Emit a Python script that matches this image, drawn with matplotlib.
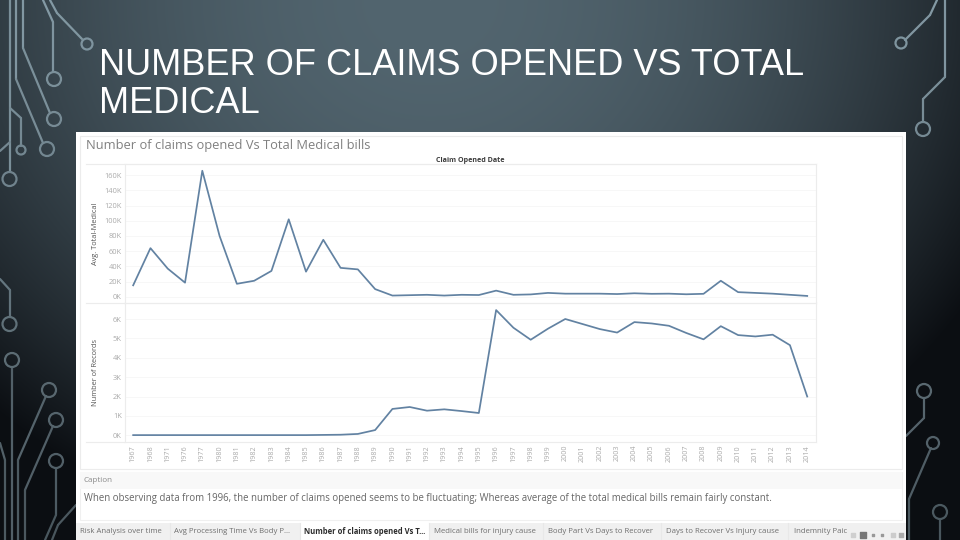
import numpy as np
import matplotlib
matplotlib.use("Agg")
import matplotlib.pyplot as plt
from matplotlib.patches import Rectangle, Circle
from matplotlib.ticker import FixedLocator, FuncFormatter

plt.rcParams["font.family"] = ["Open Sans", "DejaVu Sans"]

# --- data ---
years = [1967, 1968, 1971, 1976, 1977, 1980, 1981, 1982, 1983, 1984, 1985, 1986, 1987, 1988,
         1989, 1990, 1991, 1992, 1993, 1994, 1995, 1996, 1997, 1998, 1999, 2000, 2001, 2002,
         2003, 2004, 2005, 2006, 2007, 2008, 2009, 2010, 2011, 2012, 2013, 2014]
avg_medical = [15, 64, 37, 18.5, 166, 80, 17, 21, 34, 102, 33, 75, 38, 36,
               10, 1.5, 2, 2.5, 1.5, 2.5, 2.2, 8, 2.5, 3, 5, 4, 4, 4,
               3.5, 4.5, 3.8, 4, 3.2, 3.8, 21, 6, 5, 4, 2.5, 1]
num_records = [0.01, 0.01, 0.01, 0.01, 0.01, 0.01, 0.01, 0.01, 0.01, 0.01, 0.01, 0.02, 0.03, 0.07,
               0.27, 1.36, 1.46, 1.27, 1.34, 1.25, 1.15, 6.46, 5.55, 4.93, 5.5, 6.0, 5.74, 5.48,
               5.3, 5.84, 5.77, 5.65, 5.28, 4.95, 5.63, 5.17, 5.1, 5.19, 4.65, 2.0]
medical_ticks = [0, 20, 40, 60, 80, 100, 120, 140, 160]
record_ticks = [0, 1, 2, 3, 4, 5, 6]
tab_names = ["Risk Analysis over time", "Avg Processing Time Vs Body P...", "Number of claims opened Vs T...",
             "Medical bills for injury cause", "Body Part Vs Days to Recover",
             "Days to Recover Vs Injury cause", "Indemnity Paic"]
tab_x = [80, 174, 304, 434, 548, 666, 794]
tab_edges = [170, 300, 429, 543, 661, 788]

W, H = 960, 540
fig = plt.figure(figsize=(9.6, 5.4), dpi=100)


def pane(left, top, right, bottom):
    return fig.add_axes([left / W, 1 - bottom / H, (right - left) / W, (bottom - top) / H])


# --- fondo de la diapositiva ---
bg = fig.add_axes([0, 0, 1, 1])
bg.axis("off")

yy, xx = np.mgrid[0:H, 0:W]
dist = np.sqrt(((xx - 430) / 640) ** 2 + (yy / 560) ** 2)
t = np.clip(dist, 0, 1)[..., None] ** 2.0
inner = np.array([0x52, 0x65, 0x6f]) / 255
outer = np.array([0x0b, 0x0e, 0x12]) / 255
bg.imshow(inner * (1 - t) + outer * t, extent=[0, W, H, 0], aspect="auto", zorder=0)
bg.set_xlim(0, W)
bg.set_ylim(H, 0)

# --- pistas del circuito (decoracion) ---
traces = [
    [(43, 0), (53, 22), (53, 72)],
    [(50, 0), (57, 13), (82, 39)],
    [(23, 0), (23, 48), (50, 113)],
    [(16, 0), (16, 79), (43, 143)],
    [(10, 0), (10, 172)],
    [(10, 108), (21, 118), (21, 146)],
    [(0, 151), (10, 142)],
    [(0, 279), (10, 290), (10, 317)],
    [(12, 367), (12, 540)],
    [(46, 396), (18, 460), (18, 540)],
    [(53, 426), (25, 490), (25, 540)],
    [(56, 468), (56, 515), (45, 540)],
    [(76, 505), (58, 525), (52, 540)],
    [(0, 443), (5, 460), (5, 540)],
    [(945, 0), (945, 77), (923, 99), (923, 122)],
    [(937, 0), (930, 15), (905, 40)],
    [(924, 398), (924, 418), (906, 436)],
    [(931, 448), (909, 499), (909, 540)],
    [(940, 519), (940, 540)],
]
rings = [(87, 44, 5.5), (54, 79, 7), (54, 119, 7), (47, 149, 7), (9.5, 179, 7), (21, 150, 4.5),
         (9.5, 324, 7), (12, 360, 7), (49, 390, 7), (56, 420, 7), (56, 461, 7),
         (901, 43, 5.5), (923, 129, 7), (924, 391, 7), (933, 443, 6), (940, 512, 7)]


def trace_color(y):
    f = min(y / 540, 1)
    top = np.array([0x84, 0x9a, 0xa5]) / 255
    bottom = np.array([0x48, 0x55, 0x5c]) / 255
    return tuple((1 - f) * top + f * bottom)


for tr in traces:
    for (x0, y0), (x1, y1) in zip(tr[:-1], tr[1:]):
        bg.plot([x0, x1], [y0, y1], color=trace_color((y0 + y1) / 2), lw=1.6,
                solid_capstyle="round", zorder=1)
for cx, cy, r in rings:
    bg.add_patch(Circle((cx, cy), r, fill=False, ec=trace_color(cy), lw=1.6, zorder=1))

bg.text(99, 65.5, "NUMBER OF CLAIMS OPENED VS TOTAL", color="white", fontsize=26,
        family="Liberation Sans", va="center", ha="left")
bg.text(99, 103.5, "MEDICAL", color="white", fontsize=26,
        family="Liberation Sans", va="center", ha="left")

# --- panel blanco del dashboard ---
bg.add_patch(Rectangle((76, 132), 830, 408, fc="white", ec="none", zorder=2))
bg.add_patch(Rectangle((79.5, 136), 822.5, 333, fc="white", ec="#ececec", lw=0.8, zorder=2))
bg.add_patch(Rectangle((79.5, 472), 822.5, 48, fc="white", ec="#f0f0f0", lw=0.8, zorder=2))
bg.add_patch(Rectangle((80, 472), 822, 17, fc="#f8f8f8", ec="none", zorder=2))
bg.add_patch(Rectangle((76, 523), 830, 17, fc="#f0f0f0", ec="none", zorder=2))
bg.add_patch(Rectangle((301, 523), 128, 17, fc="white", ec="none", zorder=2))
for x in tab_edges:
    bg.plot([x, x], [523, 540], color="#e8e8e8", lw=0.8, zorder=3)

bg.text(85.5, 146, "Number of claims opened Vs Total Medical bills", color="#808080",
        fontsize=9.25, va="center", zorder=4)
bg.plot([86, 816], [164.3, 164.3], color="#ececec", lw=0.8, zorder=3)
bg.text(470, 160.5, "Claim Opened Date", color="#3a3a3a", fontsize=5.1, fontweight="bold",
        ha="center", va="center", zorder=4)
bg.plot([86, 125], [303.3, 303.3], color="#ececec", lw=0.8, zorder=3)
bg.plot([86, 125], [442.3, 442.3], color="#ececec", lw=0.8, zorder=3)

bg.text(84, 481, "Caption", color="#8a8a8a", fontsize=5.8, va="center", zorder=4)
bg.text(84, 498.5, "When observing data from 1996, the number of claims opened seems to be fluctuating; "
        "Whereas average of the total medical bills remain fairly constant.",
        color="#666666", fontsize=6.9, va="center", zorder=4)

for i, (name, x) in enumerate(zip(tab_names, tab_x)):
    active = i == 2
    bg.text(x, 531.5, name, color="#2c2c2c" if active else "#6f6f6f", fontsize=5.5 if active else 5.6,
            fontweight="bold" if active else "normal", va="center", zorder=4)
bg.scatter([853, 863, 873, 882, 893, 901], [535, 535, 535, 535, 535, 535], s=[9, 14, 2, 2, 9, 9],
           marker="s", color=["#cfcfcf", "#777777", "#999999", "#999999", "#cccccc", "#aaaaaa"], zorder=5)

# --- paneles del grafico ---
x_pos = np.arange(len(years))
x_lim = (-0.49, len(years) - 1 + 0.49)
line_color = "#6282a2"

ax_top = pane(124.7, 164.3, 815.7, 303.2)
ax_bot = pane(124.7, 303.2, 815.7, 442.2)

ax_top.plot(x_pos, avg_medical, color=line_color, lw=1.25)
ax_bot.plot(x_pos, num_records, color=line_color, lw=1.25)

# 0K y 160K caen en y=296.7 y y=175.3; 0K y 6K en y=435.3 y y=319
ax_top.set_ylim(-6.5 / 121.4 * 160, (296.7 - 164.3) / 121.4 * 160)
ax_bot.set_ylim(-6.9 / 116.3 * 6, (435.3 - 303.2) / 116.3 * 6)

for ax, ticks, label in [(ax_top, medical_ticks, "Avg. Total-Medical"), (ax_bot, record_ticks, "Number of Records")]:
    ax.set_xlim(*x_lim)
    ax.yaxis.set_major_locator(FixedLocator(ticks))
    ax.yaxis.set_major_formatter(FuncFormatter(lambda v, p: f"{v:.0f}K"))
    ax.grid(axis="y", color="#f7f7f7", lw=0.7)
    ax.set_axisbelow(True)
    ax.tick_params(axis="y", length=0, labelsize=5.4, labelcolor="#aaaaaa", pad=2)
    ax.set_ylabel(label, fontsize=5.3, color="#555555")
    ax.yaxis.set_label_coords(-0.0375, 0.5)
    for side in ax.spines:
        ax.spines[side].set_color("#ececec")
        ax.spines[side].set_linewidth(0.8)
    ax.patch.set_alpha(0)
    ax.set_zorder(5)

ax_top.set_xticks([])
ax_bot.set_xticks(x_pos)
ax_bot.set_xticklabels(years, rotation=90)
ax_bot.tick_params(axis="x", length=0, labelsize=5.2, labelcolor="#aaaaaa", pad=2)

fig.savefig("out.png", dpi=100)
